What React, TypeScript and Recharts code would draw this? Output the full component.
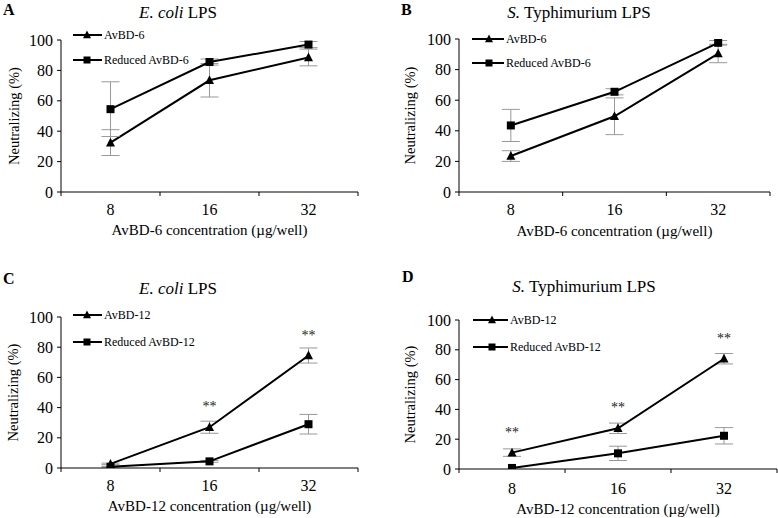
import React from 'react';
import { LineChart, Line, XAxis, YAxis, ErrorBar, Legend, LabelList } from 'recharts';

const concentrations = ['8', '16', '32'];
const yTicks = [0, 20, 40, 60, 80, 100];

const aNative = [32.5, 73.5, 88.5];
const aNativeErr = [8.5, 11, 5.5];
const aReduced = [54.5, 85.5, 97];
const aReducedErr = [18, 2, 2];

const bNative = [23.5, 49.5, 90.5];
const bNativeErr = [3.5, 12, 6];
const bReduced = [43.5, 65.5, 97.5];
const bReducedErr = [10.5, 2, 1.5];

const cNative = [2.7, 27, 74.5];
const cNativeErr = [0.5, 4, 5];
const cReduced = [0.8, 4.4, 29];
const cReducedErr = [0.3, 0.6, 6.5];
const cSig = ['', '**', '**'];

const dNative = [11, 27.3, 74];
const dNativeErr = [2.5, 3.5, 3.5];
const dReduced = [0.7, 10.5, 22.3];
const dReducedErr = [0, 4.8, 5.5];
const dSig = ['**', '**', '**'];

const noSig = ['', '', ''];
const names6 = ['AvBD-6', 'Reduced AvBD-6'];
const names12 = ['AvBD-12', 'Reduced AvBD-12'];
const xTitle6 = 'AvBD-6 concentration (\u00b5g/well)';
const xTitle12 = 'AvBD-12 concentration (\u00b5g/well)';
const yTitle = 'Neutralizing (%)';

const FONT = 'Liberation Serif';
const fontStyle = { fontFamily: FONT };

const buildRows = (nat: number[], natErr: number[], red: number[], redErr: number[], sig: string[]) =>
  concentrations.map((c, i) => ({
    conc: c,
    native: nat[i],
    nativeErr: natErr[i],
    reduced: red[i],
    reducedErr: redErr[i],
    sig: sig[i],
  }));

const panels = [
  {
    letter: 'A', italic: 'E. coli', rest: ' LPS', names: names6, xTitle: xTitle6,
    rows: buildRows(aNative, aNativeErr, aReduced, aReducedErr, noSig),
    pos: [0, 0], plot: { l: 61, t: 40, r: 358, b: 192 },
    leg: { x1: 73, x2: 102, xm: 87, ya: 35, yb: 60, tx: 104 },
    yTitleX: 13.5, xTitleY: 235, tickBase: 23, titleX: 178, titleY: 18, letterX: 3, letterY: 15,
  },
  {
    letter: 'B', italic: 'S.', rest: ' Typhimurium LPS', names: names6, xTitle: xTitle6,
    rows: buildRows(bNative, bNativeErr, bReduced, bReducedErr, noSig),
    pos: [389, 0], plot: { l: 70, t: 39, r: 381, b: 192 },
    leg: { x1: 83, x2: 115, xm: 100, ya: 39, yb: 63, tx: 117 },
    yTitleX: 21, xTitleY: 236, tickBase: 23, titleX: 190, titleY: 18, letterX: 12, letterY: 15,
  },
  {
    letter: 'C', italic: 'E. coli', rest: ' LPS', names: names12, xTitle: xTitle12,
    rows: buildRows(cNative, cNativeErr, cReduced, cReducedErr, cSig),
    pos: [0, 259], plot: { l: 61, t: 58, r: 358, b: 209 },
    leg: { x1: 73, x2: 102, xm: 87, ya: 56, yb: 83, tx: 104 },
    yTitleX: 13, xTitleY: 252, tickBase: 23, titleX: 178, titleY: 35, letterX: 3, letterY: 25,
  },
  {
    letter: 'D', italic: 'S.', rest: ' Typhimurium LPS', names: names12, xTitle: xTitle12,
    rows: buildRows(dNative, dNativeErr, dReduced, dReducedErr, dSig),
    pos: [389, 259], plot: { l: 70, t: 61, r: 388, b: 210 },
    leg: { x1: 84, x2: 119, xm: 103, ya: 61, yb: 88, tx: 121 },
    yTitleX: 21, xTitleY: 255, tickBase: 25, titleX: 195, titleY: 33, letterX: 13, letterY: 23,
  },
];

const W = 389;
const H = 259;

const triPath = (cx: number, cy: number, s: number) =>
  `M${cx},${cy - s * 0.55} L${cx + s / 2},${cy + s * 0.42} L${cx - s / 2},${cy + s * 0.42} Z`;

const TriangleDot = (p: any) =>
  p.cx == null ? null : <path key={`t${p.index}`} d={triPath(p.cx, p.cy, 9)} fill="#000" />;
const SquareDot = (p: any) =>
  p.cx == null ? null : <rect key={`s${p.index}`} x={p.cx - 4} y={p.cy - 4} width={8} height={8} fill="#000" />;

const StarLabel = (p: any) => {
  if (!p.value) return null;
  return (
    <text x={p.x} y={p.y - 16} textAnchor="middle" fontFamily={FONT} style={fontStyle} fontSize={14} fill="#222">
      {p.value}
    </text>
  );
};

const YTitle = ({ posX, posY }: any) => (
  <text
    x={posX}
    y={posY}
    transform={`rotate(-90 ${posX} ${posY})`}
    textAnchor="middle"
    dominantBaseline="central"
    fontFamily={FONT}
    style={fontStyle}
    fontSize={14.5}
    fill="#000"
  >
    {yTitle}
  </text>
);

const XTitle = ({ posX, posY, text }: any) => (
  <text x={posX} y={posY} textAnchor="middle" fontFamily={FONT} style={fontStyle} fontSize={15} fill="#000">
    {text}
  </text>
);

const makeXTick = (band: number, plotBottom: number, base: number) => (props: any) => {
  const { x, index, payload } = props;
  const last = index === concentrations.length - 1;
  return (
    <g key={`xt${index}`}>
      <line x1={x - band / 2} x2={x - band / 2} y1={plotBottom} y2={plotBottom + 4} stroke="#000" />
      {last && <line x1={x + band / 2} x2={x + band / 2} y1={plotBottom} y2={plotBottom + 4} stroke="#000" />}
      <text x={x} y={plotBottom + base} textAnchor="middle" fontFamily={FONT} style={fontStyle} fontSize={16} fill="#000">
        {payload.value}
      </text>
    </g>
  );
};

const LegendBox = ({ leg, names }: any) => {
  const len = leg.x2 - leg.x1;
  const m = leg.xm - leg.x1;
  const t = leg.tx - leg.x1;
  const y1 = 8;
  const y2 = 8 + (leg.yb - leg.ya);
  return (
    <svg width={170} height={y2 + 10} style={{ overflow: 'visible', display: 'block' }}>
      <line x1={0} x2={len} y1={y1} y2={y1} stroke="#000" strokeWidth={2} />
      <path d={triPath(m, y1, 8)} fill="#000" />
      <text x={t} y={y1 + 4} fontFamily={FONT} style={fontStyle} fontSize={12} fill="#000">{names[0]}</text>
      <line x1={0} x2={len} y1={y2} y2={y2} stroke="#000" strokeWidth={2} />
      <rect x={m - 3.5} y={y2 - 3.5} width={7} height={7} fill="#000" />
      <text x={t} y={y2 + 4} fontFamily={FONT} style={fontStyle} fontSize={12} fill="#000">{names[1]}</text>
    </svg>
  );
};

const Panel = ({ cfg }: any) => {
  const { plot, leg } = cfg;
  const band = (plot.r - plot.l) / concentrations.length;
  return (
    <div style={{ position: 'absolute', left: cfg.pos[0], top: cfg.pos[1], width: W, height: H }}>
      <LineChart
        width={W}
        height={H}
        data={cfg.rows}
        margin={{ top: plot.t, right: W - plot.r, bottom: 0, left: 0 }}
        style={fontStyle}
      >
        <XAxis
          dataKey="conc"
          type="category"
          height={H - plot.b}
          padding={{ left: band / 2, right: band / 2 }}
          axisLine={{ stroke: '#000' }}
          tickLine={false}
          tick={makeXTick(band, plot.b, cfg.tickBase)}
          interval={0}
          label={<XTitle posX={(plot.l + plot.r) / 2} posY={cfg.xTitleY} text={cfg.xTitle} />}
        />
        <YAxis
          type="number"
          domain={[0, 100]}
          allowDataOverflow
          ticks={yTicks}
          width={plot.l}
          axisLine={{ stroke: '#000' }}
          tickLine={{ stroke: '#000' }}
          tickSize={4}
          tickMargin={4}
          tick={{ fontFamily: FONT, fontSize: 16, fill: '#000', style: fontStyle }}
          label={<YTitle posX={cfg.yTitleX} posY={(plot.t + plot.b) / 2} />}
        />
        <Legend
          layout="horizontal"
          verticalAlign="middle"
          align="center"
          wrapperStyle={{ left: leg.x1, top: leg.ya - 8, width: 170, height: 50, margin: 0, padding: 0 }}
          content={() => <LegendBox leg={leg} names={cfg.names} />}
        />
        <Line
          name={cfg.names[0]}
          dataKey="native"
          type="linear"
          stroke="#000"
          strokeWidth={2}
          dot={TriangleDot}
          activeDot={false}
          isAnimationActive={false}
        >
          <ErrorBar dataKey="nativeErr" width={9} stroke="#999" strokeWidth={1} direction="y" />
          <LabelList dataKey="sig" content={StarLabel} />
        </Line>
        <Line
          name={cfg.names[1]}
          dataKey="reduced"
          type="linear"
          stroke="#000"
          strokeWidth={2}
          dot={SquareDot}
          activeDot={false}
          isAnimationActive={false}
        >
          <ErrorBar dataKey="reducedErr" width={9} stroke="#999" strokeWidth={1} direction="y" />
        </Line>
      </LineChart>
      <svg
        width={W}
        height={H}
        style={{ position: 'absolute', left: 0, top: 0, pointerEvents: 'none' }}
      >
        <text x={cfg.letterX} y={cfg.letterY} fontFamily={FONT} style={fontStyle} fontSize={16} fontWeight="bold" fill="#000">
          {cfg.letter}
        </text>
        <text x={cfg.titleX} y={cfg.titleY} textAnchor="middle" fontFamily={FONT} style={fontStyle} fontSize={17} fill="#000">
          <tspan fontStyle="italic">{cfg.italic}</tspan>
          <tspan>{cfg.rest}</tspan>
        </text>
      </svg>
    </div>
  );
};

export default function App() {
  return (
    <div style={{ position: 'absolute', left: 0, top: 0, width: 778, height: 518, background: '#fff', fontFamily: FONT }}>
      {panels.map((p) => (
        <Panel key={p.letter} cfg={p} />
      ))}
    </div>
  );
}
